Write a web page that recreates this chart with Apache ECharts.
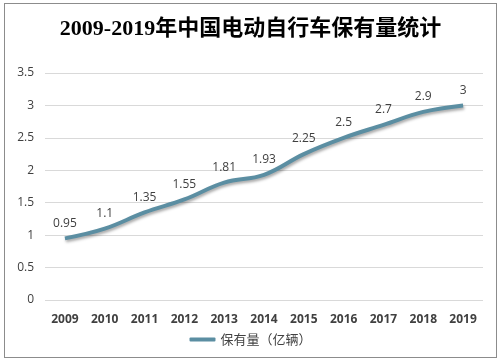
<!DOCTYPE html>
<html><head><meta charset="utf-8">
<script src="https://cdn.jsdelivr.net/npm/echarts@6/dist/echarts.min.js"></script>
<style>html,body{margin:0;padding:0;background:#fff}#c{width:501px;height:363px}
#frame{position:absolute;left:4px;top:3px;width:493px;height:355px;border:1px solid #8c8c8c;box-sizing:border-box;pointer-events:none}</style>
</head><body><div id="c"></div><div id="frame"></div>
<script>
const titleText = '2009-2019年中国电动自行车保有量统计';
const categories = ['2009','2010','2011','2012','2013','2014','2015','2016','2017','2018','2019'];
const seriesName = '保有量（亿辆）';
const values = [0.95,1.1,1.35,1.55,1.81,1.93,2.25,2.5,2.7,2.9,3];
const yTicks = [0,0.5,1,1.5,2,2.5,3,3.5];

const chart = echarts.init(document.getElementById('c'));
chart.setOption({
  animation:false,
  title:{text:titleText,left:'center',top:13,textStyle:{fontFamily:"'Liberation Serif','Noto Sans CJK SC',serif",fontSize:22,fontWeight:'bold',color:'#000'}},
  grid:{left:45,right:18,top:73,bottom:63},
  legend:{bottom:12,left:'center',itemWidth:26,itemHeight:4,icon:'roundRect',itemGap:4,data:[seriesName],textStyle:{fontSize:13,color:'#404040',fontFamily:"'Noto Sans CJK SC',sans-serif"}},
  xAxis:{type:'category',data:categories,boundaryGap:true,axisLine:{show:false},axisTick:{show:false},
    axisLabel:{fontWeight:'bold',fontSize:12,color:'#404040',margin:14,fontFamily:"'Open Sans','Noto Sans',sans-serif"}},
  yAxis:{type:'value',min:0,max:3.5,interval:0.5,axisLine:{show:false},axisTick:{show:false},
    splitLine:{lineStyle:{color:'#d9d9d9',width:1}},
    axisLabel:{fontSize:12,color:'#404040',margin:11,fontFamily:"'Open Sans','Noto Sans',sans-serif",formatter:v=>String(v)}},
  series:[{name:seriesName,type:'line',data:values,smooth:0.4,symbol:'circle',symbolSize:0.01,showSymbol:true,
    lineStyle:{color:'#5b8ea2',width:4,shadowColor:'rgba(0,0,0,0.35)',shadowBlur:3,shadowOffsetY:2,shadowOffsetX:1},
    itemStyle:{color:'#5b8ea2',opacity:1},
    label:{show:true,position:'top',distance:9,fontSize:12,color:'#404040',fontFamily:"'Open Sans','Noto Sans',sans-serif"}}]
});
</script></body></html>
